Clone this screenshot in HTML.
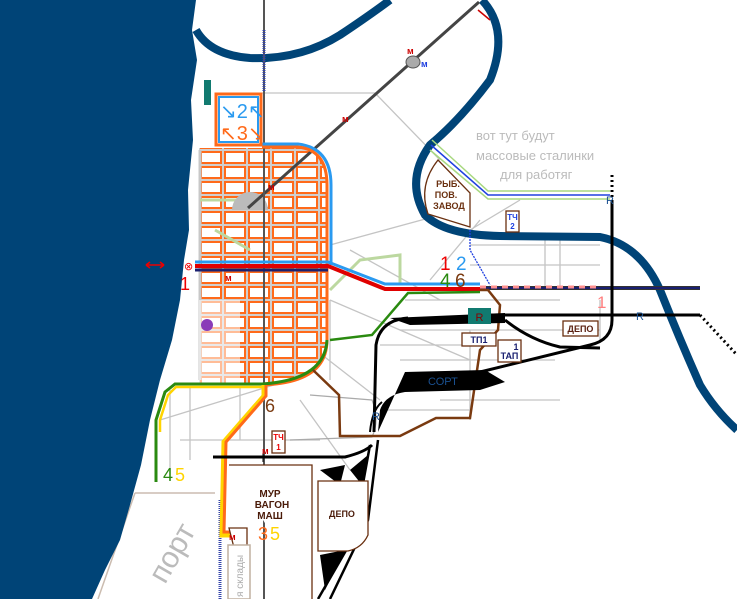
<!DOCTYPE html>
<html><head><meta charset="utf-8"><style>
html,body{margin:0;padding:0;background:#fff}
svg{display:block}
text{font-family:"Liberation Sans","DejaVu Sans",sans-serif}
</style></head><body>
<svg width="737" height="599" viewBox="0 0 737 599" xmlns="http://www.w3.org/2000/svg">
<defs>
<pattern id="blk" width="24" height="15" patternUnits="userSpaceOnUse" x="199" y="150">
<rect width="24" height="15" fill="#cfcfcf"/>
<rect x="2" y="2" width="20" height="11" fill="#fff" stroke="#ff6a1a" stroke-width="2"/>
</pattern>
</defs>
<rect width="737" height="599" fill="#fff"/>
<!-- port -->
<path d="M135,493 L215,493 M135,493 L98,599" stroke="#cbbcb0" stroke-width="1.5" fill="none"/>
<text x="165" y="585" font-size="30" fill="#bbb" transform="rotate(-60 165 585)">порт</text>
<!-- gray roads -->
<g stroke="#c4c4c4" stroke-width="1.3" fill="none">
<path d="M262,93 L375,93 L440,160"/>
<path d="M330,245 L440,215 M330,300 L470,360 M380,345 L470,345 M470,330 L470,420"/>
<path d="M405,300 L560,300 M400,330 L600,330 M400,360 L555,360 M560,240 L560,290 M600,300 L600,340"/>
<path d="M470,230 L520,200 M470,245 L600,245 M470,265 L600,265 M545,240 L545,290"/>
<path d="M160,420 L290,380 M170,390 L170,480 M190,388 L190,460 M240,388 L240,440 M300,400 L350,470"/>
<path d="M180,440 L320,440 M330,300 L330,380 M290,330 L380,400 M380,410 L470,410"/>
<path d="M440,400 L560,400 M480,220 L430,280 M350,250 L440,300"/>
</g>
<path d="M310,395 L372,400 Q380,420 372,437 L290,440" stroke="#aaa" stroke-width="1.2" fill="none"/>
<!-- city -->
<path d="M199,148 L300,148 Q326,150 326,185 L326,340 Q326,383 262,383 L199,383 Z" fill="url(#blk)"/>
<path d="M200,150 L200,380" stroke="#c8c8c8" stroke-width="3"/>
<path d="M199,300 L240,300 L240,383 L199,383 Z" fill="#fff" opacity="0.55"/>
<path d="M200,200 L250,200 M215,230 L250,250 M330,290 L360,260 L400,255 L400,285" stroke="#bcd8a0" stroke-width="3" fill="none"/>
<circle cx="207" cy="325" r="6" fill="#8a3cb8"/>
<path d="M232,210 A18,18 0 0 1 268,210 Z" fill="#bbb"/>
<!-- sea -->
<path d="M0,0 L196,0 L192,30 L197,60 L191,100 L193,140 L188,190 L189,230 L184,260 L180,300 L172,340 L160,380 L150,420 L141,465 L130,505 L120,540 L105,570 L92,599 L0,599 Z" fill="#004477"/>
<!-- river -->
<path d="M196,30 Q210,55 250,58 Q300,60 340,35 Q370,15 390,0" stroke="#004477" stroke-width="8" fill="none"/>
<path d="M482,0 Q510,30 490,80 Q460,120 430,145 Q405,180 425,215 Q445,235 500,236 L600,237 Q640,245 660,290 Q680,340 700,385 Q715,410 737,430" stroke="#004477" stroke-width="8" fill="none"/>
<!-- diagonal avenue -->
<path d="M248,208 L479,2" stroke="#444" stroke-width="3"/>
<ellipse cx="413" cy="62" rx="7" ry="6" fill="#aaa" stroke="#555"/>
<path d="M478,10 L490,20" stroke="#c00" stroke-width="1.5"/>
<!-- vertical -->
<path d="M264,0 L264,599" stroke="#555" stroke-width="2"/>
<path d="M264,30 L264,92" stroke="#3344aa" stroke-width="3" stroke-dasharray="1,1"/>
<path d="M220,500 L220,599" stroke="#3344aa" stroke-width="3" stroke-dasharray="1,1"/>
<!-- stadium -->
<path d="M262,144 L298,144 Q331,148 331,185 L331,265" stroke="#2a9af0" stroke-width="3" fill="none"/>
<path d="M262,147 L298,147 Q327,150 327,185 L327,340 Q327,383 262,385" stroke="#ff6a1a" stroke-width="3" fill="none"/>
<!-- box -->
<rect x="216" y="94" width="45" height="51" fill="#fff" stroke="#ff6a1a" stroke-width="3"/>
<rect x="219" y="97" width="39" height="45" fill="#fff" stroke="#2a9af0" stroke-width="2"/>
<text x="220" y="118" font-size="20" fill="#2a9af0" font-family="DejaVu Sans">↘2↖</text>
<text x="220" y="140" font-size="20" fill="#ff6a1a" font-family="DejaVu Sans">↖3↘</text>
<rect x="204" y="80" width="7" height="25" fill="#117a70"/>
<!-- main lines -->
<path d="M195,262 L328,262 L385,284 L480,284" stroke="#2a9af0" stroke-width="3" fill="none"/>
<path d="M195,266 L328,266 L385,289 L480,289" stroke="#e00000" stroke-width="4" fill="none"/>
<path d="M195,270 L328,270" stroke="#1a2070" stroke-width="3"/>
<path d="M480,288 L700,288" stroke="#333" stroke-width="4"/>
<path d="M480,288 L700,288" stroke="#1a2070" stroke-width="2"/>
<path d="M480,287 L600,287" stroke="#ff9090" stroke-width="3" stroke-dasharray="6,5"/>
<!-- green line -->
<path d="M480,292 L408,293 L372,335 L330,340" stroke="#2a8a10" stroke-width="2.5" fill="none"/>
<path d="M327,340 Q325,380 262,384 L175,384 L165,392 L156,420 L156,482" stroke="#2a8a10" stroke-width="3" fill="none"/>
<path d="M262,387 L176,387 L168,395 L160,420 L160,432" stroke="#ffd400" stroke-width="2.5" fill="none"/>
<!-- orange line down -->
<path d="M264,385 L264,396 L224,442 L222,535 L246,535" stroke="#ffd400" stroke-width="5" fill="none"/>
<path d="M266,385 L266,396 L226,442 L224,532 L246,532" stroke="#ff6a1a" stroke-width="3" fill="none"/>
<!-- brown line -->
<path d="M313,370 L339,395 L340,436 L400,436 L436,418 L470,418 L480,350 L498,330 L500,305 L488,290 L480,290" stroke="#7a3a10" stroke-width="2.5" fill="none"/>
<!-- rails -->
<path d="M480,315 L700,315" stroke="#000" stroke-width="3"/>
<path d="M700,315 L737,355" stroke="#000" stroke-width="3" stroke-dasharray="2,3"/>
<path d="M612,175 L612,200" stroke="#000" stroke-width="3" stroke-dasharray="2,3"/>
<path d="M612,200 L612,320 Q612,340 590,345 L480,372" stroke="#000" stroke-width="3" fill="none"/>
<path d="M505,320 Q530,340 560,347 L600,348" stroke="#000" stroke-width="3" fill="none"/>
<path d="M390,318 L505,313 L505,323 L410,325 Z" fill="#000"/>
<path d="M408,318 Q380,320 376,345 L374,432" stroke="#000" stroke-width="3" fill="none"/>
<path d="M405,372 L485,370 L505,382 L480,390 L405,392 Q385,395 380,410 L378,432" fill="#000"/>
<path d="M382,402 Q372,410 370,432" stroke="#000" stroke-width="2" fill="none"/>
<path d="M213,457 L345,457 Q365,452 372,445" stroke="#000" stroke-width="3" fill="none"/>
<path d="M370,445 L360,500 L352,540 L318,599 M378,440 L368,520 L330,599" stroke="#000" stroke-width="2.5" fill="none"/>
<path d="M320,470 L345,465 L340,485 Z M350,470 L368,455 L362,485 Z M320,555 L345,550 L325,590 Z" fill="#000"/>
<!-- blue thin with green -->
<path d="M432,140 L488,191 L610,191" stroke="#a8d880" stroke-width="1.5" fill="none"/>
<path d="M430,150 L488,199 L610,199" stroke="#a8d880" stroke-width="1.5" fill="none"/>
<path d="M431,145 L488,195 L610,195" stroke="#2040e0" stroke-width="1.5" fill="none"/>
<path d="M470,230 L470,250 L490,285" stroke="#2040e0" stroke-width="1.3" stroke-dasharray="2,1" fill="none"/>
<!-- buildings -->
<path d="M438,160 L470,193 L470,227 L428,214 Q418,185 438,160 Z" fill="#fff" stroke="#6a3010" stroke-width="1.3"/>
<text x="448" y="187" font-size="9" font-weight="bold" fill="#6a3010" text-anchor="middle">РЫБ.</text>
<text x="446" y="198" font-size="9" font-weight="bold" fill="#6a3010" text-anchor="middle">ПОВ.</text>
<text x="449" y="209" font-size="9" font-weight="bold" fill="#6a3010" text-anchor="middle">ЗАВОД</text>
<rect x="506" y="211" width="13" height="21" fill="#fff" stroke="#6a3010" stroke-width="1.3"/>
<text x="512.5" y="220" font-size="8" font-weight="bold" fill="#2040e0" text-anchor="middle">ТЧ</text>
<text x="512.5" y="229" font-size="8" font-weight="bold" fill="#2040e0" text-anchor="middle">2</text>
<rect x="468" y="308" width="23" height="16" fill="#117a70"/>
<text x="479.5" y="321" font-size="11" fill="#800" text-anchor="middle">R</text>
<rect x="462" y="333" width="34" height="13" fill="#fff" stroke="#6a3010" stroke-width="1.3"/>
<text x="479" y="343" font-size="9" font-weight="bold" fill="#1a2070" text-anchor="middle">ТП1</text>
<rect x="498" y="340" width="23" height="22" fill="#fff" stroke="#6a3010" stroke-width="1.3"/>
<text x="516" y="350" font-size="9" font-weight="bold" fill="#1a2070" text-anchor="middle">1</text>
<text x="509.5" y="359" font-size="9" font-weight="bold" fill="#1a2070" text-anchor="middle">ТАП</text>
<rect x="563" y="321" width="35" height="15" fill="#fff" stroke="#6a3010" stroke-width="1.3"/>
<text x="580.5" y="332" font-size="9" font-weight="bold" fill="#5a2010" text-anchor="middle">ДЕПО</text>
<text x="428" y="385" font-size="11" fill="#1a5090">СОРТ</text>
<!-- lower buildings -->
<path d="M229,465 L312,465 L312,599 M247,599 L247,528 L229,528 Z" fill="#fff" stroke="#6a3010" stroke-width="1.3"/>
<text x="270" y="497" font-size="10" font-weight="bold" fill="#4a1a08" text-anchor="middle">МУР</text>
<text x="272" y="508" font-size="10" font-weight="bold" fill="#4a1a08" text-anchor="middle">ВАГОН</text>
<text x="270" y="519" font-size="10" font-weight="bold" fill="#4a1a08" text-anchor="middle">МАШ</text>
<path d="M318,481 L368,481 L368,535 Q362,548 348,551 L318,551 Z" fill="#fff" stroke="#6a3010" stroke-width="1.3"/>
<text x="342" y="517" font-size="9" font-weight="bold" fill="#4a1a08" text-anchor="middle">ДЕПО</text>
<rect x="272" y="431" width="13" height="22" fill="#fff" stroke="#6a3010" stroke-width="1.3"/>
<text x="278.5" y="440" font-size="8" font-weight="bold" fill="#e00" text-anchor="middle">ТЧ</text>
<text x="278.5" y="450" font-size="8" font-weight="bold" fill="#e00" text-anchor="middle">1</text>
<path d="M263,453 L263,462" stroke="#000" stroke-width="1"/>
<rect x="228" y="545" width="22" height="54" fill="#fff" stroke="#c0b0a0" stroke-width="1.5"/>
<text x="243" y="597" font-size="10" fill="#aaa" transform="rotate(-90 243 597)">я склады</text>
<!-- labels -->
<text x="476" y="140" font-size="13" fill="#bbb">вот тут будут</text>
<text x="476" y="160" font-size="13" fill="#bbb">массовые сталинки</text>
<text x="500" y="179" font-size="13" fill="#bbb">для работяг</text>
<text x="440" y="270" font-size="19" fill="#e00">1</text>
<text x="456" y="270" font-size="19" fill="#2a9af0">2</text>
<text x="440" y="287" font-size="19" fill="#2a8a10">4</text>
<text x="455" y="287" font-size="19" fill="#7a3a10">6</text>
<text x="597" y="308" font-size="17" fill="#ff8080">1</text>
<text x="180" y="290" font-size="18" fill="#e00">1</text>
<text x="184" y="270" font-size="11" fill="#e00">⊗</text>
<path d="M146,265 L164,265 M146,265 L150,262 M146,265 L150,268 M164,265 L160,262 M164,265 L160,268" stroke="#e00" stroke-width="1.5" fill="none"/>
<text x="265" y="412" font-size="18" fill="#7a3a10">6</text>
<text x="163" y="481" font-size="18" fill="#2a8a10">4</text>
<text x="175" y="481" font-size="18" fill="#ffd400">5</text>
<text x="258" y="540" font-size="18" fill="#ff6a1a">3</text>
<text x="270" y="540" font-size="18" fill="#ffd400">5</text>
<g font-size="9" font-weight="bold" fill="#c00">
<text x="342" y="122">м</text><text x="407" y="54">м</text><text x="268" y="190">м</text>
<text x="225" y="281">м</text><text x="262" y="454">м</text><text x="229" y="540">м</text>
</g>
<text x="421" y="67" font-size="9" font-weight="bold" fill="#2040e0">м</text>
<g font-size="11" fill="#1a5090">
<text x="606" y="204">R</text><text x="636" y="320">R</text><text x="372" y="420">R</text>
</g>
</svg>
</body></html>
